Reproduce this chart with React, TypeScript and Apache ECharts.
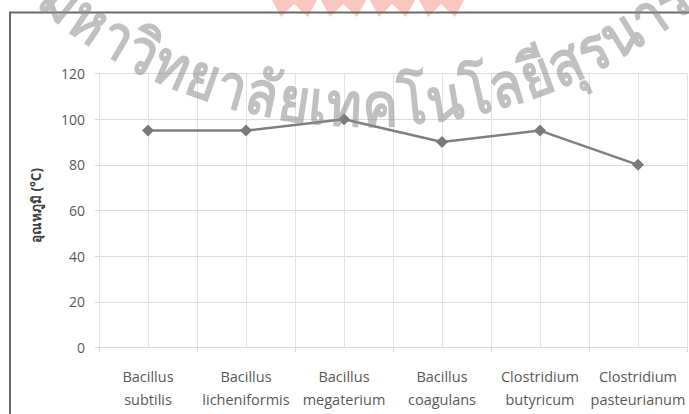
import React, { useEffect, useRef } from "react";
import * as echarts from "echarts";

// ---- data ----
const categories = [
  "Bacillus subtilis",
  "Bacillus licheniformis",
  "Bacillus megaterium",
  "Bacillus coagulans",
  "Clostridium butyricum",
  "Clostridium pasteurianum",
];
const temperatures = [95, 95, 100, 90, 95, 80];
const yMin = 0;
const yMax = 120;
const yInterval = 20;
const yAxisTitle = "อุณหภูมิ (°C)";
const watermarkText = "มหาวิทยาลัยเทคโนโลยีสุรนารี";
const logoUnits = [0, 1, 2, 3];

function buildWatermark(): any[] {
  const fontFamily = "sans-serif";
  const baseSize = 100;
  const sx = 0.87;
  const canvas = document.createElement("canvas");
  const ctx = canvas.getContext("2d") as CanvasRenderingContext2D;
  ctx.font = `bold ${baseSize}px ${fontFamily}`;
  let clusters: string[] = [];
  const Seg = (Intl as any).Segmenter;
  if (Seg) {
    const seg = new Seg("th", { granularity: "grapheme" });
    clusters = Array.from(seg.segment(watermarkText), (s: any) => s.segment as string);
  } else {
    clusters = Array.from(watermarkText);
  }
  const widths = clusters.map((c) => ctx.measureText(c).width * sx);
  const centers: number[] = [];
  let s = 0;
  widths.forEach((w) => {
    centers.push(s + w / 2);
    s += w;
  });
  // circle of the arc
  const cx = 366;
  const cy = -385;
  const r = 490;
  // anchors: "ห" (index 1) and "สุ" (index 17)
  const phiA = -Math.asin(276 / r);
  const phiB = Math.asin(199 / r);
  const iA = 1;
  const iB = Math.min(17, clusters.length - 1);
  const k = ((phiB - phiA) * r) / (centers[iB] - centers[iA]);
  const fontSize = baseSize * k;
  const els: any[] = [];
  clusters.forEach((c, i) => {
    const phi = phiA + ((centers[i] - centers[iA]) * k) / r;
    els.push({
      type: "text",
      x: cx + r * Math.sin(phi),
      y: cy + r * Math.cos(phi),
      rotation: phi,
      scaleX: sx,
      silent: true,
      z: 100,
      style: {
        text: c,
        fontSize,
        fontWeight: "bold",
        fontFamily,
        fill: "rgba(140,140,140,0.55)",
        align: "center",
        verticalAlign: "middle",
      },
    });
  });
  return els;
}

export default function App() {
  const ref = useRef<HTMLDivElement>(null);

  useEffect(() => {
    if (!ref.current) return;
    const chart = echarts.init(ref.current, null, { renderer: "svg" });

    const logo = logoUnits.map((i) => {
      const x0 = 272 + i * 49;
      return {
        type: "polygon",
        silent: true,
        z: 1,
        shape: {
          points: [
            [x0, 0],
            [x0 + 45, 0],
            [x0 + 36, 17],
            [x0 + 22, 4],
            [x0 + 9, 17],
          ],
        },
        style: { fill: "#f8c8c0" },
      };
    });

    const option: any = {
      animation: false,
      backgroundColor: "#ffffff",
      textStyle: { fontFamily: "'Open Sans', sans-serif" },
      grid: { left: 99, right: 2, top: 73.5, bottom: 66.5, containLabel: false },
      xAxis: [
        {
          type: "category",
          data: categories,
          boundaryGap: true,
          axisLine: { show: true, lineStyle: { color: "#d9d9d9", width: 1 } },
          axisTick: { show: true, length: 5, lineStyle: { color: "#d9d9d9" } },
          splitLine: { show: false },
          axisLabel: {
            interval: 0,
            formatter: (v: string) => v.replace(" ", "\n"),
            color: "#595959",
            fontSize: 14.5,
            lineHeight: 23,
            margin: 17,
            fontFamily: "'Open Sans', sans-serif",
          },
        },
        {
          type: "value",
          min: 0,
          max: categories.length * 2,
          interval: 1,
          position: "top",
          axisLine: { show: false },
          axisTick: { show: false },
          axisLabel: { show: false },
          splitLine: { show: true, lineStyle: { color: "#e3e3e3", width: 1 } },
        },
      ],
      yAxis: {
        type: "value",
        min: yMin,
        max: yMax,
        interval: yInterval,
        name: yAxisTitle,
        nameLocation: "middle",
        nameGap: 56,
        nameRotate: 90,
        nameTextStyle: {
          fontSize: 13.5,
          fontWeight: "bold",
          color: "#404040",
          padding: [0, 0, 0, 10],
        },
        axisLine: { show: false },
        axisTick: { show: true, length: 4, lineStyle: { color: "#d9d9d9" } },
        splitLine: { show: true, lineStyle: { color: "#dcdcdc", width: 1 } },
        axisLabel: {
          color: "#595959",
          fontSize: 14,
          margin: 14,
          fontFamily: "'Open Sans', sans-serif",
        },
      },
      series: [
        {
          type: "line",
          data: temperatures,
          xAxisIndex: 0,
          yAxisIndex: 0,
          symbol: "diamond",
          symbolSize: 12,
          lineStyle: { color: "#7f7f7f", width: 2.5 },
          itemStyle: { color: "#7a7a7a" },
          z: 10,
        },
      ],
      graphic: [
        ...logo,
        {
          type: "rect",
          silent: true,
          z: 50,
          shape: { x: 10, y: 12.5, width: 1000, height: 1000 },
          style: { fill: "none", stroke: "#6a6a6a", lineWidth: 2 },
        },
        ...buildWatermark(),
      ],
    };
    chart.setOption(option);
    return () => chart.dispose();
  }, []);

  return (
    <div
      ref={ref}
      style={{ position: "fixed", left: 0, top: 0, width: 689, height: 414 }}
    />
  );
}
